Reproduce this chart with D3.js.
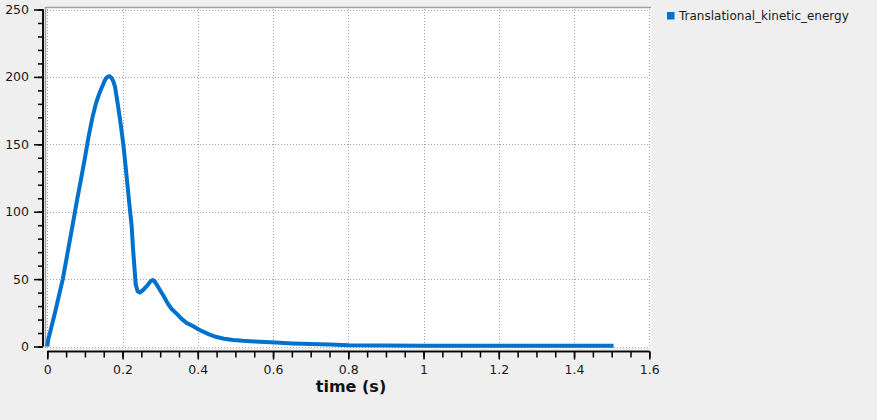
<!DOCTYPE html>
<html>
<head>
<meta charset="utf-8">
<script src="https://cdn.jsdelivr.net/npm/d3@7"></script>
<style>
  html, body { margin: 0; padding: 0; background: #efefef; }
  svg { display: block; font-family: "DejaVu Sans", sans-serif; }
</style>
</head>
<body>
<svg id="chart" width="877" height="420"></svg>
<script>
const seriesName = "Translational_kinetic_energy";
const xTitle = "time (s)";
const time = [0, 0.003, 0.007, 0.02, 0.03, 0.041, 0.05, 0.056, 0.064, 0.072, 0.08, 0.0895, 0.10, 0.11, 0.12, 0.13, 0.14, 0.15, 0.155, 0.16, 0.165, 0.17, 0.175, 0.18, 0.187, 0.195, 0.202, 0.208, 0.218, 0.224, 0.228, 0.235, 0.24, 0.246, 0.255, 0.265, 0.275, 0.28, 0.285, 0.295, 0.308, 0.32, 0.33, 0.345, 0.357, 0.37, 0.388, 0.40, 0.414, 0.43, 0.45, 0.47, 0.494, 0.52, 0.538, 0.58, 0.618, 0.65, 0.70, 0.75, 0.80, 0.90, 1.0, 1.2, 1.4, 1.505];
const energy = [0, 6, 10, 24.6, 36.5, 49.8, 63.5, 72.8, 85, 97.5, 110, 124, 140, 156, 170, 181, 189, 195.5, 198.5, 200, 200.5, 199.5, 197, 192.7, 180.4, 165, 150, 134, 106, 90, 72, 46, 41, 40, 42, 45, 48.5, 49.3, 48.5, 44, 38, 32, 28, 24, 20.5, 17.5, 15, 13, 11, 9, 7, 5.8, 4.8, 4.2, 3.9, 3.3, 2.8, 2.3, 1.8, 1.4, 0.9, 0.7, 0.6, 0.6, 0.6, 0.6];
const xTicks = [0, 0.2, 0.4, 0.6, 0.8, 1, 1.2, 1.4, 1.6];
const yTicks = [0, 50, 100, 150, 200, 250];

const svg = d3.select("#chart");
const x = d3.scaleLinear().domain([0, 1.6]).range([47.3, 649.3]);
const y = d3.scaleLinear().domain([0, 250]).range([346.5, 9.5]);

// plot background
svg.append("rect").attr("x", 45).attr("y", 7).attr("width", 606).attr("height", 341).attr("fill", "#ffffff");
svg.append("line").attr("x1", 45).attr("x2", 651).attr("y1", 7.5).attr("y2", 7.5).attr("stroke", "#a0a0a0").attr("stroke-width", 1.5);
svg.append("line").attr("x1", 45.5).attr("x2", 45.5).attr("y1", 7).attr("y2", 348).attr("stroke", "#a0a0a0").attr("stroke-width", 1.5);

// grid
const grid = svg.append("g").attr("stroke", "#a0a0a0").attr("stroke-dasharray", "1,2").attr("stroke-width", 1);
grid.selectAll(".gx").data(xTicks).join("line")
  .attr("x1", d => Math.round(x(d)) + 0.5).attr("x2", d => Math.round(x(d)) + 0.5)
  .attr("y1", 9).attr("y2", 347);
grid.selectAll(".gy").data(yTicks).join("line")
  .attr("y1", d => Math.round(y(d)) + 0.5).attr("y2", d => Math.round(y(d)) + 0.5)
  .attr("x1", 47).attr("x2", 650);

// x axis
const xAxis = d3.axisBottom(x).tickValues(xTicks).tickSize(8).tickPadding(6)
  .tickFormat(d => d3.format("~g")(d));
const xMinor = d3.axisBottom(x).tickValues(d3.range(0, 1.6001, 0.05)).tickSize(6).tickFormat("");
const gxm = svg.append("g").attr("transform", "translate(0,351.5)").call(xMinor);
const gx = svg.append("g").attr("transform", "translate(0,351.5)").call(xAxis);
[gx, gxm].forEach(g => {
  g.select(".domain").attr("stroke", "#000").attr("stroke-width", 1.5).attr("d", `M${x(0)},0H${x(1.6)}`);
  g.selectAll(".tick line").attr("stroke", "#000").attr("stroke-width", 1.5);
});
gx.selectAll("text").attr("font-size", "12.5px").attr("fill", "#1a1a1a").attr("font-family", "DejaVu Sans");

// y axis
const yAxis = d3.axisLeft(y).tickValues(yTicks).tickSize(9).tickPadding(5);
const yMinor = d3.axisLeft(y).tickValues(d3.range(0, 250.001, 10)).tickSize(5).tickFormat("");
const gym = svg.append("g").attr("transform", "translate(43,0)").call(yMinor);
const gy = svg.append("g").attr("transform", "translate(43,0)").call(yAxis);
[gy, gym].forEach(g => {
  g.select(".domain").attr("stroke", "#000").attr("stroke-width", 1.5).attr("d", `M0,${y(250)}V${y(0)}`);
  g.selectAll(".tick line").attr("stroke", "#000").attr("stroke-width", 1.5);
});
gy.selectAll("text").attr("font-size", "12.5px").attr("fill", "#1a1a1a").attr("font-family", "DejaVu Sans");

// x title
svg.append("text").attr("x", 351).attr("y", 392).attr("text-anchor", "middle")
  .attr("font-size", "16px").attr("font-weight", "bold").attr("fill", "#111").text(xTitle);

// line
const data = time.map((t, i) => ({t, v: energy[i]}));
svg.append("path").datum(data)
  .attr("fill", "none").attr("stroke", "#0072CE").attr("stroke-width", 4)
  .attr("stroke-linejoin", "round")
  .attr("d", d3.line().x(d => x(d.t)).y(d => y(d.v)));

// legend
svg.append("rect").attr("x", 667).attr("y", 12).attr("width", 7.5).attr("height", 7.5).attr("fill", "#0072CE");
svg.append("text").attr("x", 679).attr("y", 20).attr("font-size", "12px").attr("fill", "#1a1a1a").text(seriesName);
</script>
</body>
</html>
